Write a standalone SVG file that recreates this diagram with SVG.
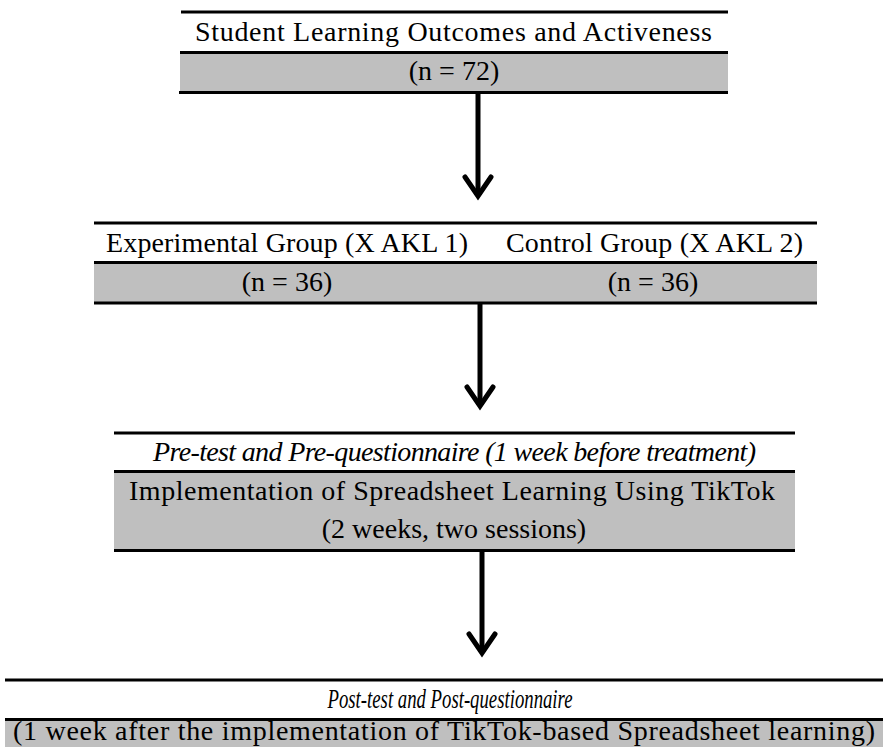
<svg xmlns="http://www.w3.org/2000/svg" width="883" height="747" viewBox="0 0 883 747">
<style>
.t{font-family:"Liberation Serif","Times New Roman",serif;font-size:28px;fill:#000}
.i{font-style:italic}
.rule{stroke:#000;stroke-width:3}
.shade{fill:#bfbfbf}
.shaft{stroke:#000;stroke-width:5;fill:none}
</style>
<defs>
<marker id="chev" markerUnits="userSpaceOnUse" viewBox="0 0 30 30" markerWidth="30" markerHeight="30" refX="22" refY="15" orient="auto" overflow="visible">
<path d="M5 2 L24 15 L5 28" fill="none" stroke="#000" stroke-width="5" stroke-linecap="round" stroke-linejoin="miter"/>
</marker>
</defs>
<rect width="883" height="747" fill="#fff"/>
<g id="node-population">
<rect class="shade" x="180" y="53" width="548" height="39"/>
<line class="rule" x1="181" y1="12" x2="728" y2="12"/>
<line class="rule" x1="180" y1="52.5" x2="728" y2="52.5"/>
<line class="rule" x1="179" y1="92.5" x2="728" y2="92.5"/>
<text class="t" x="453.5" y="41" text-anchor="middle" textLength="517" lengthAdjust="spacing">Student Learning Outcomes and Activeness</text>
<text class="t" x="454" y="80" text-anchor="middle">(n = 72)</text>
</g>
<g id="node-groups">
<rect class="shade" x="94" y="263" width="723" height="39"/>
<line class="rule" x1="94" y1="223" x2="817" y2="223"/>
<line class="rule" x1="94" y1="262.5" x2="817" y2="262.5"/>
<line class="rule" x1="94" y1="303" x2="817" y2="303"/>
<text class="t" x="468" y="252" text-anchor="end" textLength="362" lengthAdjust="spacing">Experimental Group (X AKL 1)</text>
<text class="t" x="803" y="252" text-anchor="end" textLength="297" lengthAdjust="spacing">Control Group (X AKL 2)</text>
<text class="t" x="287" y="291" text-anchor="middle">(n = 36)</text>
<text class="t" x="653" y="291" text-anchor="middle">(n = 36)</text>
</g>
<g id="node-treatment">
<rect class="shade" x="114" y="472" width="681" height="78"/>
<line class="rule" x1="114" y1="433" x2="795" y2="433"/>
<line class="rule" x1="114" y1="471.5" x2="795" y2="471.5"/>
<line class="rule" x1="114" y1="550.5" x2="795" y2="550.5"/>
<text class="t i" x="454.5" y="461" text-anchor="middle" textLength="603" lengthAdjust="spacing">Pre-test and Pre-questionnaire (1 week before treatment)</text>
<text class="t" x="452" y="500" text-anchor="middle" textLength="646" lengthAdjust="spacing">Implementation of Spreadsheet Learning Using TikTok</text>
<text class="t" x="454" y="538" text-anchor="middle">(2 weeks, two sessions)</text>
</g>
<g id="node-post">
<rect class="shade" x="5" y="720" width="878" height="27"/>
<line class="rule" x1="5" y1="680" x2="883" y2="680"/>
<line class="rule" x1="5" y1="719.5" x2="883" y2="719.5"/>
<text class="t i" x="450" y="708" text-anchor="middle" textLength="245" lengthAdjust="spacingAndGlyphs">Post-test and Post-questionnaire</text>
<text class="t" x="444" y="740" text-anchor="middle" textLength="862" lengthAdjust="spacing">(1 week after the implementation of TikTok-based Spreadsheet learning)</text>
</g>
<g id="connectors">
<path class="shaft" d="M478 94 V194" marker-end="url(#chev)"/>
<path class="shaft" d="M480 304 V404" marker-end="url(#chev)"/>
<path class="shaft" d="M482 552 V651" marker-end="url(#chev)"/>
</g>
</svg>
